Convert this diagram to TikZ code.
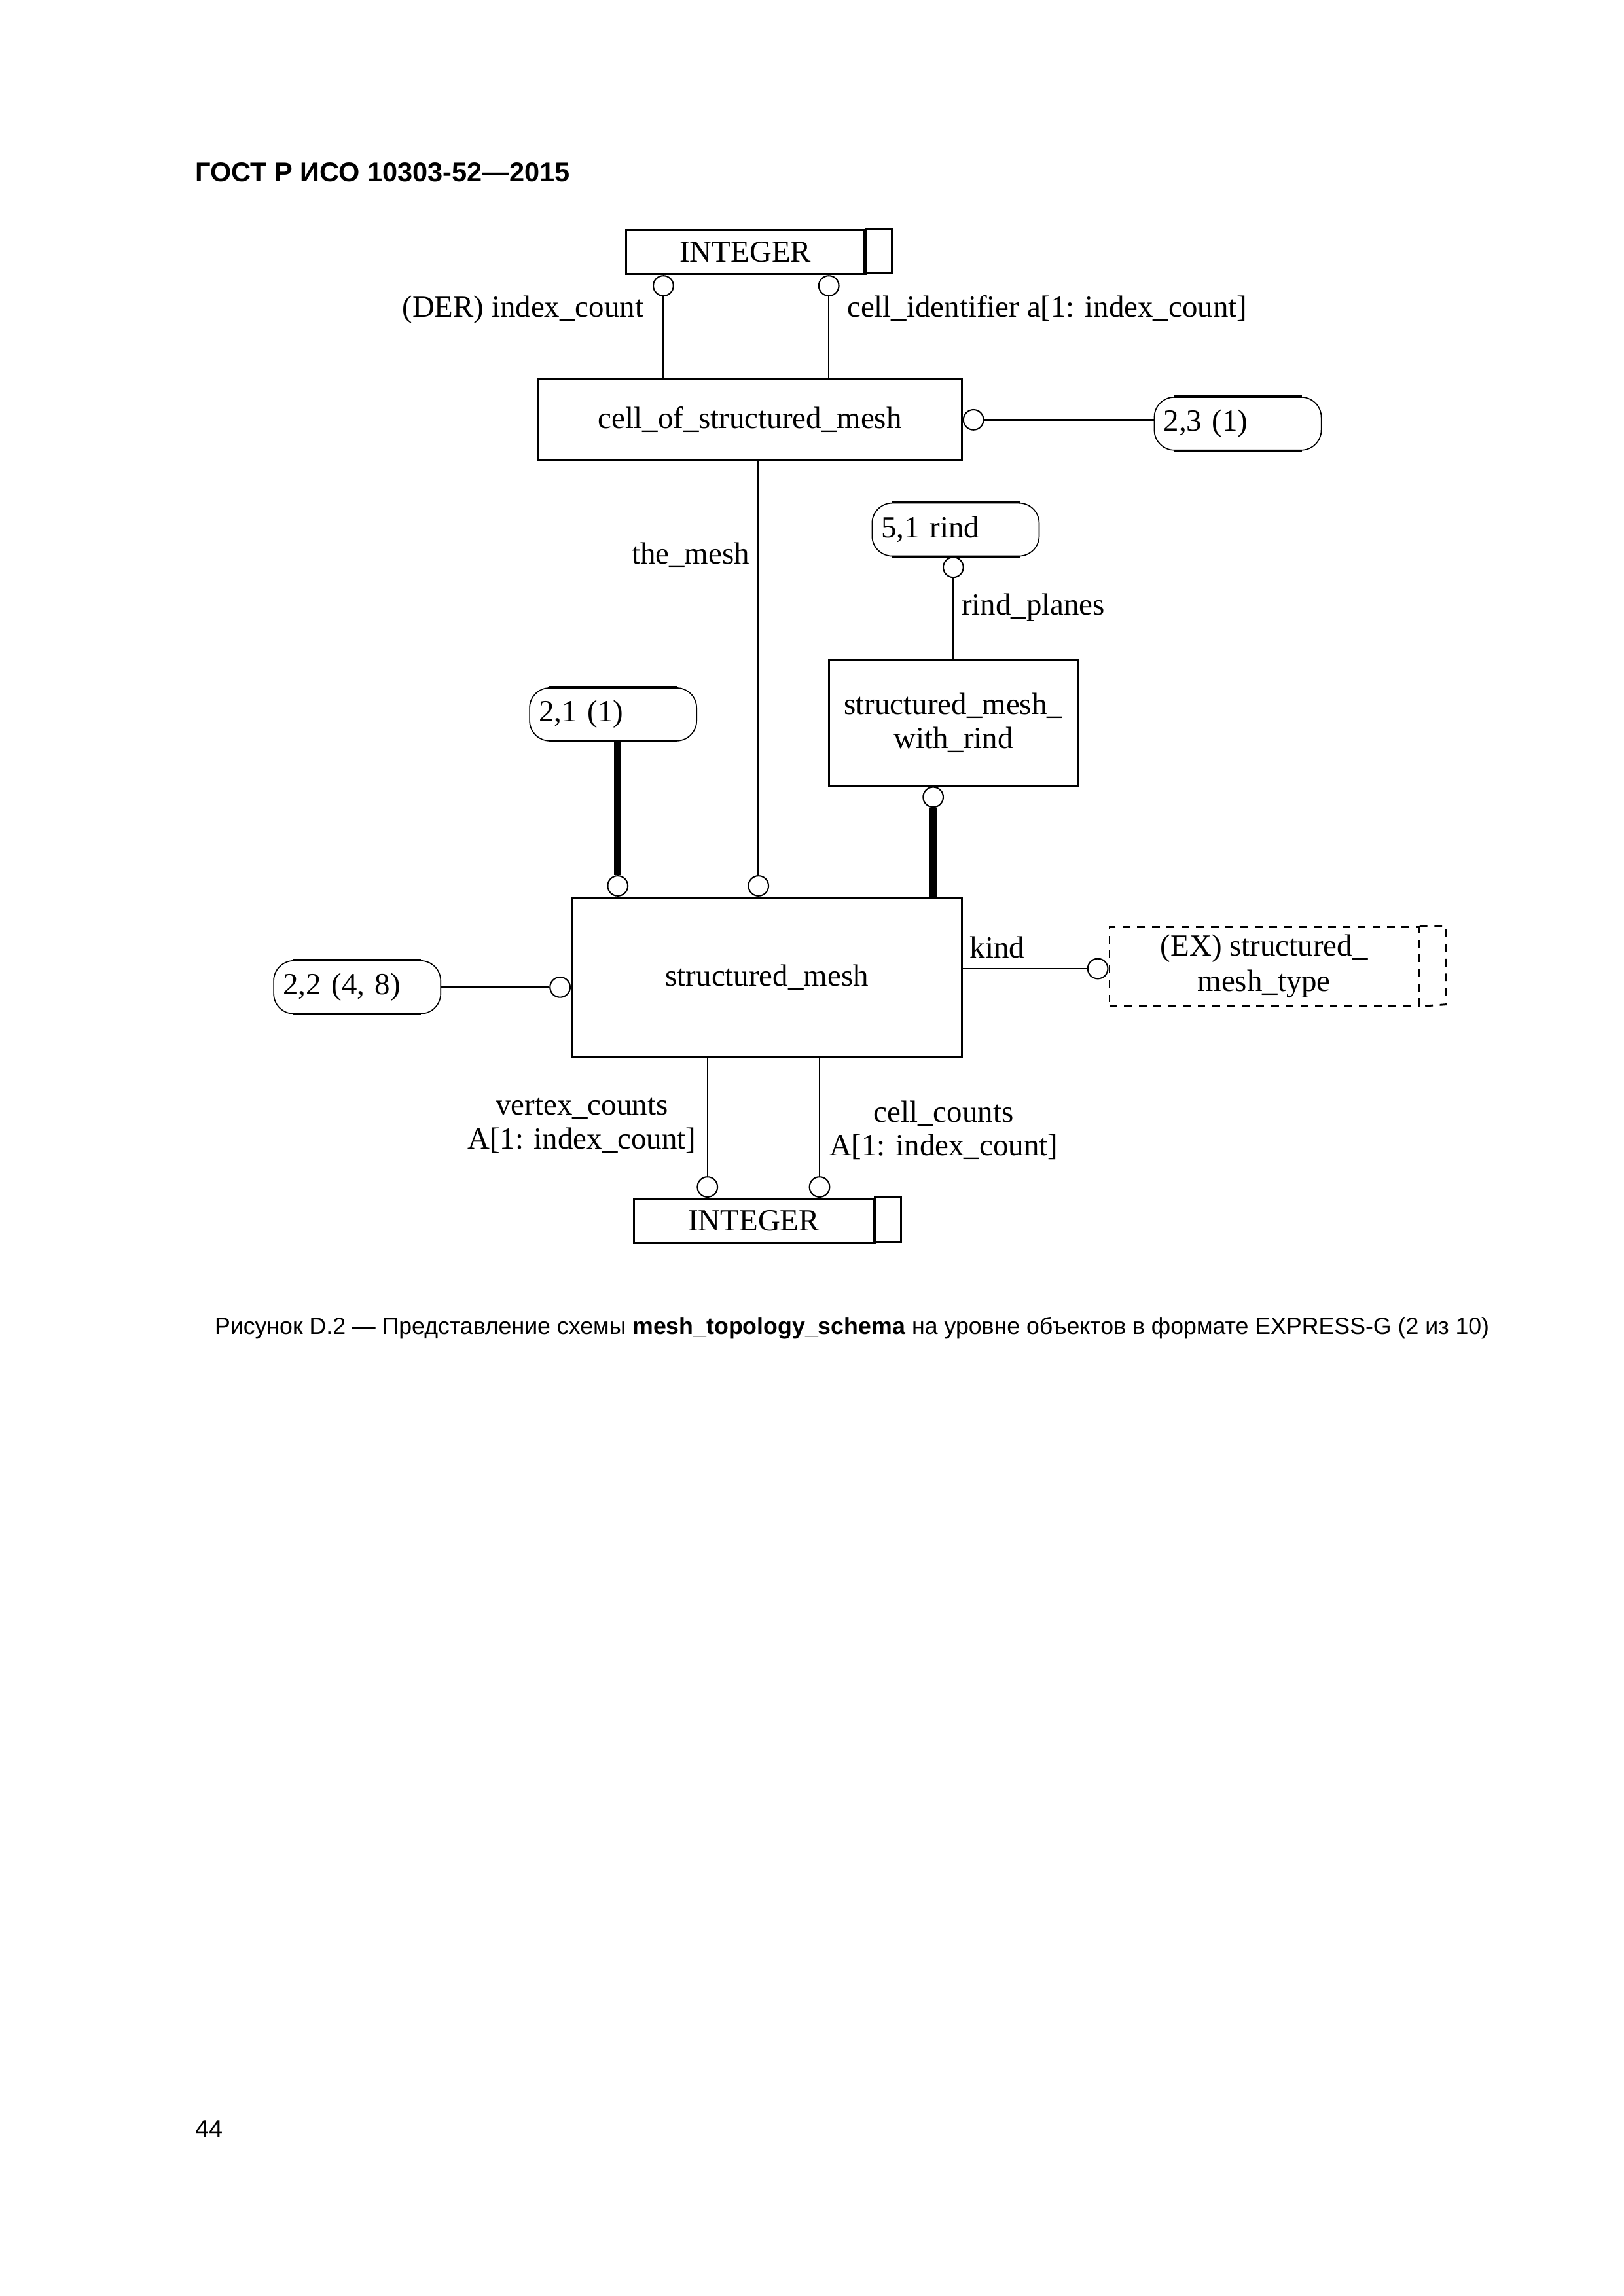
\documentclass[tikz,border=0pt]{standalone}
\usepackage{fontspec}
\setmainfont{Liberation Serif}
\newfontfamily\arialfont{Liberation Sans}
\usetikzlibrary{positioning}
\newcommand{\diafont}{\fontsize{11.3}{12.5}\selectfont}

\begin{document}
\begin{tikzpicture}[x=1mm,y=-1mm,
	ent/.style={draw,line width=0.7pt,inner sep=0pt,align=center,font=\diafont},
	pref/.style={draw,line width=0.4pt,rounded corners=2.6mm,minimum height=6.85mm,inner xsep=1.2mm,inner ysep=0pt,text width=19.2mm,align=left,font=\diafont},
	ring/.style={draw,circle,line width=0.5pt,inner sep=0pt,minimum size=2.6mm},
	rel/.style={line width=0.6pt},
	sub/.style={line width=2.6pt},
	lbl/.style={inner sep=0pt,align=center,font=\diafont}]
			\useasboundingbox (0,0) rectangle (210,297);
			
			\node[anchor=base west,inner sep=0pt,font=\arialfont\bfseries\fontsize{10}{12}\selectfont] (title) at (25.2,23.5) {ГОСТ Р ИСО 10303-52—2015};
			
			\node[ent,minimum width=30.8mm,minimum height=5.7mm] (int1) at (96.4,32.6) {INTEGER};
			\node[ent,minimum width=31mm,minimum height=5.7mm] (int2) at (97.5,157.9) {INTEGER};
			\foreach \t in {int1,int2}{
				\draw[line width=0.7pt] (\t.north east) rectangle ++(3.4,5.7);
				\draw[line width=1.2pt] (\t.north east) to (\t.south east);
			}
			
			\node[ent,minimum width=54.8mm,minimum height=10.5mm] (cell) at (97.0,54.3) {cell\_of\_structured\_mesh};
			\node[ent,minimum width=32.2mm,minimum height=16.2mm] (smwr) at (123.3,93.5) {structured\_mesh\_\\with\_rind};
			\node[ent,minimum width=50.5mm,minimum height=20.6mm] (sm) at (99.2,126.4) {structured\_mesh};
			\node[ent,dash pattern=on 1mm off 0.9mm,minimum width=40mm,minimum height=10.1mm,font=\fontsize{11.3}{13}\selectfont] (kind) at (163.5,125.0) {(EX) structured\_\\mesh\_type};
			\draw[line width=0.7pt,dash pattern=on 1mm off 0.9mm] (kind.north east) to ++(3.4,0) to ++(0,10.1) to (kind.south east);
			
			\node[pref] (p23) at (160.1,54.8) {2,3 (1)};
			\node[pref] (p51) at (123.6,68.5) {5,1 rind};
			\node[pref] (p21) at (79.3,92.4) {2,1 (1)};
			\node[pref] (p22) at (46.2,127.7) {2,2 (4, 8)};
			\foreach \p in {p23,p51,p21,p22}
				\draw[line width=0.8pt] ([xshift=2.6mm]\p.north west) to ([xshift=-2.6mm]\p.north east)
					([xshift=2.6mm]\p.south west) to ([xshift=-2.6mm]\p.south east);
			
			\node[ring,anchor=north] (o1) at (int1.south -| 85.8,0) {};
			\node[ring,anchor=north] (o2) at (int1.south -| 107.2,0) {};
			\node[ring,anchor=west] (o3) at (cell.east) {};
			\node[ring,anchor=north] (o4) at (smwr.north |- p51.south) {};
			\node[ring,anchor=north] (o5) at (smwr.south -| 120.7,0) {};
			\node[ring,anchor=south] (o6) at (sm.north -| 79.9,0) {};
			\node[ring,anchor=south] (o7) at (sm.north -| 98.1,0) {};
			\node[ring,anchor=east] (o8) at (sm.west |- p22.east) {};
			\node[ring,anchor=east] (o9) at (kind.west |- 0,125.3) {};
			\node[ring,anchor=south] (o10) at (int2.north -| 91.5,0) {};
			\node[ring,anchor=south] (o11) at (int2.north -| 106.0,0) {};
			
			\draw[rel] (o1) to (o1 |- cell.north);
			\draw[rel] (o2) to (o2 |- cell.north);
			\draw[rel] (o3) to (o3 -| p23.west);
			\draw[rel] (o7) to (o7 |- cell.south);
			\draw[rel] (o4) to (o4 |- smwr.north);
			\draw[sub] (o5) to (o5 |- sm.north);
			\draw[sub] (o6) to (o6 |- p21.south);
			\draw[rel] (o8) to (p22.east);
			\draw[rel] (o9) to (o9 -| sm.east);
			\draw[rel] (o10) to (o10 |- sm.south);
			\draw[rel] (o11) to (o11 |- sm.south);
			
			\node[lbl,anchor=base east] (l1) at (83.3,41.0) {(DER) index\_count};
			\node[lbl,anchor=base west] (l2) at (109.5,41.0) {cell\_identifier a[1: index\_count]};
			\node[lbl,anchor=base east] (l3) at (97.0,72.9) {the\_mesh};
			\node[lbl,anchor=base west] (l4) at (124.3,79.5) {rind\_planes};
			\node[lbl,anchor=base west] (l5) at (125.4,123.9) {kind};
			\node[lbl,anchor=east] (l6) at (90.1,145.6) {vertex\_counts\\A[1: index\_count]};
			\node[lbl,anchor=west] (l7) at (107.2,146.2) {cell\_counts\\A[1: index\_count]};
			
			%\node (X) at (105,190) {};
			\node[anchor=base west,inner sep=0pt,font=\arialfont\fontsize{8.6}{11}\selectfont] (cap) at (27.7,172.6) {Рисунок D.2 — Представление схемы \textbf{mesh\_topology\_schema} на уровне объектов в формате EXPRESS-G (2 из 10)};
			\node[anchor=base west,inner sep=0pt,font=\arialfont\fontsize{9}{11}\selectfont] (pg) at (25.2,276.5) {44};
			\end{tikzpicture}
\end{document}
